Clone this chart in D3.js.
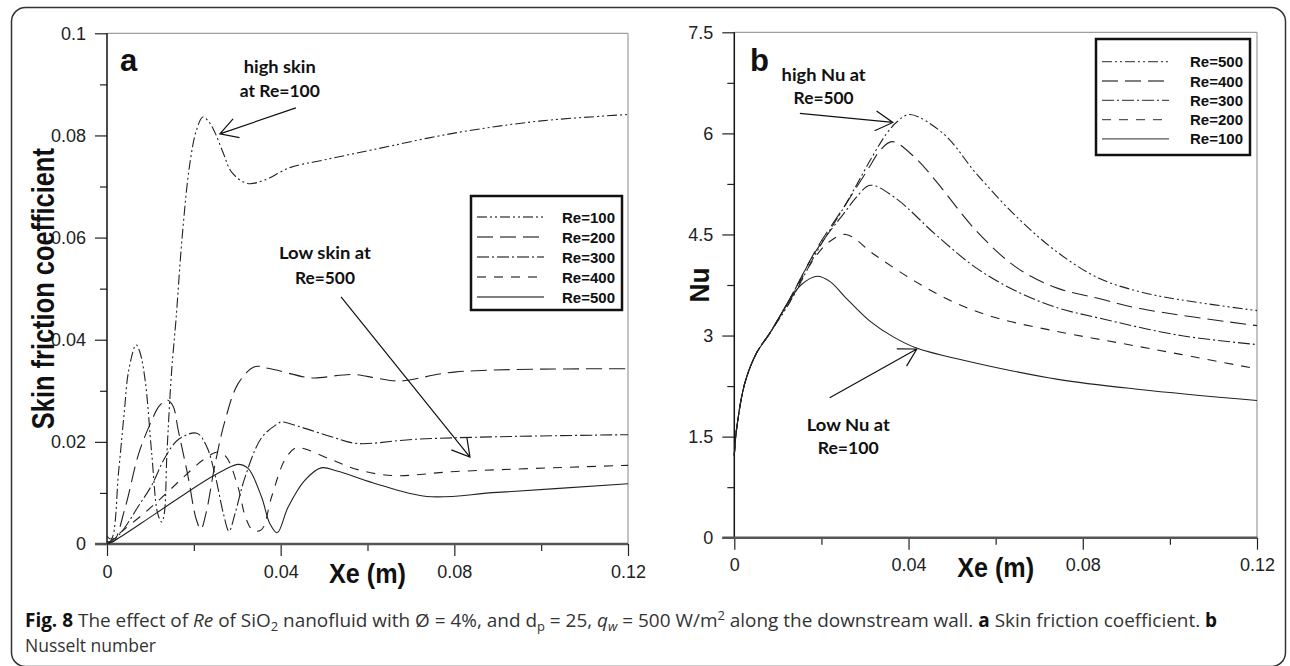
<!DOCTYPE html>
<html>
<head>
<meta charset="utf-8">
<script src="https://cdn.jsdelivr.net/npm/d3@7"></script>
<style>
body { margin: 0; background: #fff; }
</style>
</head>
<body>
<script>
// tick values
var xTicks = [0, 0.04, 0.08, 0.12];
var xMinor = [0.02, 0.06, 0.1];
var cfTicks = [0, 0.02, 0.04, 0.06, 0.08, 0.1];
var cfMinor = [0.01, 0.03, 0.05, 0.07, 0.09];
var nuTicks = [0, 1.5, 3, 4.5, 6, 7.5];
var nuMinor = [0.75, 2.25, 3.75, 5.25, 6.75];

// (a) skin friction coefficient vs Xe
var cfRe100 = [[0,0.0015],[0.001,0.001],[0.0027,0.0144],[0.004,0.026],[0.005,0.034],[0.0067,0.039],[0.0076,0.0375],
  [0.0088,0.032],[0.0103,0.0177],[0.0117,0.0059],[0.0126,0.0043],[0.0132,0.006],[0.0138,0.0177],[0.0149,0.034],
  [0.0159,0.044],[0.0173,0.060],[0.019,0.074],[0.0206,0.081],[0.0221,0.0836],[0.0236,0.0825],[0.0249,0.0805],
  [0.0268,0.0765],[0.0288,0.0727],[0.0324,0.0706],[0.0364,0.0713],[0.0421,0.0737],[0.05,0.0752],[0.0612,0.0772],
  [0.0803,0.0805],[0.0995,0.0828],[0.12,0.0841]];
var cfRe200 = [[0,0.0005],[0.0015,0.0005],[0.0042,0.0072],[0.0073,0.0177],[0.0103,0.0242],[0.012,0.027],[0.0138,0.0282],
  [0.0152,0.027],[0.0164,0.0223],[0.0187,0.0131],[0.0205,0.005],[0.0216,0.0029],[0.0228,0.006],[0.0249,0.0157],
  [0.0272,0.0242],[0.0302,0.0314],[0.034,0.0347],[0.0371,0.0344],[0.0455,0.0327],[0.0479,0.0325],[0.0565,0.0332],
  [0.062,0.0325],[0.067,0.0319],[0.0804,0.0337],[0.12,0.0343]];
var cfRe300 = [[0,0],[0.003,0.002],[0.0073,0.0075],[0.0103,0.0115],[0.0134,0.017],[0.0165,0.0205],[0.0207,0.0217],
  [0.023,0.019],[0.025,0.0131],[0.0268,0.006],[0.0281,0.0025],[0.0295,0.006],[0.0318,0.0131],[0.0356,0.0208],
  [0.0394,0.0236],[0.0402,0.0239],[0.045,0.0228],[0.0517,0.021],[0.0574,0.0197],[0.0708,0.0205],[0.0899,0.021],
  [0.12,0.0214]];
var cfRe400 = [[0,0],[0.002,0.0015],[0.0088,0.0062],[0.0135,0.0098],[0.018,0.0134],[0.0222,0.0165],[0.0256,0.018],
  [0.0275,0.017],[0.0302,0.0111],[0.032,0.005],[0.0337,0.0026],[0.0356,0.0028],[0.0379,0.0092],[0.0409,0.0164],
  [0.0432,0.0187],[0.0448,0.0188],[0.0517,0.0165],[0.058,0.0145],[0.066,0.0134],[0.0804,0.0142],[0.12,0.0154]];
var cfRe500 = [[0,0],[0.002,0.0008],[0.0111,0.0059],[0.0226,0.0124],[0.027,0.0145],[0.0302,0.0156],[0.0325,0.0148],
  [0.0356,0.0092],[0.0375,0.004],[0.0392,0.0022],[0.0417,0.0072],[0.0455,0.0124],[0.0493,0.0149],[0.053,0.0143],
  [0.0612,0.012],[0.0737,0.0093],[0.0899,0.0101],[0.12,0.0118]];

// (b) Nusselt number vs Xe
var nuRe100 = [[0,1.22],[0.0005,1.6],[0.0024,2.29],[0.0051,2.74],[0.0082,3.04],[0.0128,3.53],[0.0153,3.75],[0.019,3.88],
  [0.022,3.8],[0.0256,3.56],[0.0312,3.21],[0.0365,2.98],[0.042,2.81],[0.0556,2.59],[0.0743,2.35],[0.0931,2.2],[0.12,2.036]];
var nuRe200 = [[0,1.22],[0.0005,1.6],[0.0024,2.29],[0.0051,2.74],[0.0082,3.04],[0.0128,3.55],[0.019,4.2],[0.022,4.4],
  [0.0256,4.5],[0.0322,4.2],[0.0416,3.8],[0.0509,3.48],[0.0603,3.26],[0.075,3.05],[0.0884,2.89],[0.1025,2.72],[0.12,2.505]];
var nuRe300 = [[0,1.22],[0.0005,1.6],[0.0024,2.29],[0.0051,2.74],[0.0082,3.04],[0.0128,3.55],[0.019,4.28],[0.0256,4.85],
  [0.028,5.05],[0.0312,5.23],[0.0368,5.05],[0.0462,4.5],[0.0556,4.0],[0.065,3.65],[0.0743,3.41],[0.0837,3.26],
  [0.1025,3.0],[0.12,2.866]];
var nuRe400 = [[0,1.22],[0.0005,1.6],[0.0024,2.29],[0.0051,2.74],[0.0082,3.04],[0.0128,3.55],[0.019,4.3],[0.0256,4.95],
  [0.031,5.5],[0.0335,5.75],[0.0362,5.878],[0.0415,5.64],[0.0462,5.3],[0.0556,4.55],[0.065,4.0],[0.0743,3.7],
  [0.0837,3.55],[0.0931,3.4],[0.12,3.147]];
var nuRe500 = [[0,1.22],[0.0005,1.6],[0.0024,2.29],[0.0051,2.74],[0.0082,3.04],[0.0128,3.5],[0.019,4.25],[0.0256,4.95],
  [0.0312,5.6],[0.035,6.0],[0.0375,6.18],[0.0403,6.281],[0.0481,5.99],[0.0556,5.40],[0.065,4.75],[0.0743,4.23],
  [0.0837,3.85],[0.0931,3.65],[0.1025,3.53],[0.12,3.37]];

var cfLegend = ["Re=100", "Re=200", "Re=300", "Re=400", "Re=500"];
var nuLegend = ["Re=500", "Re=400", "Re=300", "Re=200", "Re=100"];

// line styles
var dashDotDot = "10,3,2,3,2,3";
var longDash = "16,7";
var dashDot = "12,3,2,3";
var medDash = "9,8";
var solid = null;

var svg = d3.select("body").append("svg")
  .attr("width", 1290)
  .attr("height", 666);

// figure border
svg.append("rect")
  .attr("x", 11.5).attr("y", 7.5)
  .attr("width", 1274).attr("height", 659)
  .attr("rx", 14)
  .attr("fill", "none")
  .attr("stroke", "#333")
  .attr("stroke-width", 1.5);

function drawPanel(p) {
  var x = d3.scaleLinear().domain([0, 0.12]).range([p.left, p.right]);
  var y = d3.scaleLinear().domain([0, p.ymax]).range([p.bottom, p.top]);
  var g = svg.append("g");

  // thin frame top/right
  g.append("line").attr("x1", x(0)).attr("x2", x(0.12)).attr("y1", y(p.ymax)).attr("y2", y(p.ymax))
    .attr("stroke", "#888").attr("stroke-width", 1);
  g.append("line").attr("x1", x(0.12)).attr("x2", x(0.12)).attr("y1", y(0)).attr("y2", y(p.ymax))
    .attr("stroke", "#888").attr("stroke-width", 1);

  // axes
  var yAxis = g.append("g").attr("transform", "translate(" + x(0) + ",0)")
    .call(d3.axisLeft(y).tickValues(p.yticks).tickSize(12).tickPadding(9).tickFormat(p.yfmt));
  var yMin = g.append("g").attr("transform", "translate(" + x(0) + ",0)")
    .call(d3.axisLeft(y).tickValues(p.yminor).tickSize(7).tickFormat(""));
  var xAxis = g.append("g").attr("transform", "translate(0," + y(0) + ")")
    .call(d3.axisBottom(x).tickValues(xTicks).tickSize(12).tickPadding(9)
      .tickFormat(function(d) { return d === 0 ? "0" : d3.format(".2f")(d); }));
  var xMin = g.append("g").attr("transform", "translate(0," + y(0) + ")")
    .call(d3.axisBottom(x).tickValues(xMinor).tickSize(7).tickFormat(""));
  [yAxis, yMin, xAxis, xMin].forEach(function(a) {
    a.select(".domain").remove();
    a.attr("font-family", "Liberation Sans, Arial, sans-serif")
      .attr("font-size", 18)
      .attr("color", "#222");
    a.selectAll("line").attr("stroke-width", 1.2);
    a.selectAll("text").attr("fill", "#222");
  });

  g.append("line").attr("x1", x(0)).attr("x2", x(0)).attr("y1", y(0)).attr("y2", y(p.ymax))
    .attr("stroke", "#111").attr("stroke-width", 1.5);
  g.append("line").attr("x1", x(0) - 12).attr("x2", x(0.12)).attr("y1", y(0)).attr("y2", y(0))
    .attr("stroke", "#555").attr("stroke-width", 2.6);

  // curves
  var line = d3.line()
    .x(function(d) { return x(d[0]); })
    .y(function(d) { return y(d[1]); })
    .curve(d3.curveCatmullRom.alpha(0.5));
  p.series.forEach(function(s) {
    g.append("path")
      .attr("d", line(s.data))
      .attr("fill", "none")
      .attr("stroke", "#222")
      .attr("stroke-width", 1.1)
      .attr("stroke-dasharray", s.dash);
  });

  // axis titles
  g.append("text")
    .attr("transform", "translate(" + p.ytitleX + "," + ((p.top + p.bottom) / 2) + ") rotate(-90)")
    .attr("text-anchor", "middle")
    .attr("font-family", "Liberation Sans, Arial, sans-serif")
    .attr("font-weight", "bold")
    .attr("font-size", p.ytitleSize)
    .attr("textLength", p.ytitleLen)
    .attr("lengthAdjust", "spacingAndGlyphs")
    .attr("fill", "#111")
    .text(p.ytitle);
  g.append("text")
    .attr("x", (p.left + p.right) / 2)
    .attr("y", y(0) + 39)
    .attr("text-anchor", "middle")
    .attr("font-family", "Liberation Sans, Arial, sans-serif")
    .attr("font-weight", "bold")
    .attr("font-size", 28)
    .attr("textLength", 77)
    .attr("lengthAdjust", "spacingAndGlyphs")
    .attr("fill", "#111")
    .text("Xe (m)");

  // panel letter
  g.append("text")
    .attr("x", x(p.letterAt[0])).attr("y", y(p.letterAt[1]))
    .attr("font-family", "Liberation Sans, Arial, sans-serif")
    .attr("font-weight", "bold")
    .attr("font-size", 31)
    .attr("fill", "#111")
    .text(p.letter);

  // annotations
  p.notes.forEach(function(n) {
    n.lines.forEach(function(t, i) {
      g.append("text")
        .attr("x", x(n.at[0]))
        .attr("y", y(n.at[1]) + i * n.gap)
        .attr("text-anchor", "middle")
        .attr("font-family", "Lato, Open Sans, sans-serif")
        .attr("font-weight", "bold")
        .attr("font-size", 17)
        .attr("textLength", n.len[i])
        .attr("lengthAdjust", "spacingAndGlyphs")
        .attr("fill", "#111")
        .text(t);
    });
    var x1 = x(n.from[0]), y1 = y(n.from[1]), x2 = x(n.to[0]), y2 = y(n.to[1]);
    var ang = Math.atan2(y1 - y2, x1 - x2);
    var h = 20, spread = 0.52;
    g.append("path")
      .attr("d", "M" + x1 + "," + y1 + "L" + x2 + "," + y2 +
        "M" + (x2 + h * Math.cos(ang - spread)) + "," + (y2 + h * Math.sin(ang - spread)) +
        "L" + x2 + "," + y2 +
        "L" + (x2 + h * Math.cos(ang + spread)) + "," + (y2 + h * Math.sin(ang + spread)))
      .attr("fill", "none")
      .attr("stroke", "#111")
      .attr("stroke-width", 1.2);
  });

  // legend
  var lg = p.legend;
  g.append("rect")
    .attr("x", lg.x).attr("y", lg.y).attr("width", lg.w).attr("height", lg.h)
    .attr("fill", "#fff").attr("stroke", "#111").attr("stroke-width", 2.5);
  lg.labels.forEach(function(lab, i) {
    var ry = lg.row0 + i * lg.step;
    g.append("line")
      .attr("x1", lg.x + 6).attr("x2", lg.x + 73)
      .attr("y1", ry).attr("y2", ry)
      .attr("stroke", "#555").attr("stroke-width", 1.3)
      .attr("stroke-dasharray", lg.dashes[i]);
    g.append("text")
      .attr("x", lg.x + lg.w - 7).attr("y", ry + 5.5)
      .attr("text-anchor", "end")
      .attr("font-family", "Liberation Sans, Arial, sans-serif")
      .attr("font-weight", "bold")
      .attr("font-size", 15)
      .attr("fill", "#111")
      .text(lab);
  });
}

drawPanel({
  left: 107, right: 628, top: 33.3, bottom: 544, ymax: 0.1,
  yticks: cfTicks, yminor: cfMinor,
  yfmt: function(d) { return d === 0 ? "0" : d3.format(".2~f")(d); },
  series: [
    {data: cfRe100, dash: dashDotDot},
    {data: cfRe200, dash: longDash},
    {data: cfRe300, dash: dashDot},
    {data: cfRe400, dash: medDash},
    {data: cfRe500, dash: solid}
  ],
  ytitle: "Skin friction coefficient", ytitleX: 54, ytitleSize: 31, ytitleLen: 281,
  letter: "a", letterAt: [0.003, 0.0926],
  notes: [
    {lines: ["high skin", "at Re=100"], len: [72, 80], at: [0.0398, 0.0923], gap: 24,
      from: [0.0435, 0.0854], to: [0.026, 0.0803]},
    {lines: ["Low skin at", "Re=500"], len: [92, 60], at: [0.0502, 0.0558], gap: 25,
      from: [0.0539, 0.0484], to: [0.0836, 0.0170]}
  ],
  legend: {x: 471, y: 196, w: 151, h: 114, row0: 217, step: 20, labels: cfLegend,
    dashes: [dashDotDot, longDash, dashDot, medDash, solid]}
});

drawPanel({
  left: 734.3, right: 1257, top: 32.3, bottom: 537.7, ymax: 7.5,
  yticks: nuTicks, yminor: nuMinor,
  yfmt: d3.format("~g"),
  series: [
    {data: nuRe500, dash: dashDotDot},
    {data: nuRe400, dash: longDash},
    {data: nuRe300, dash: dashDot},
    {data: nuRe200, dash: medDash},
    {data: nuRe100, dash: solid}
  ],
  ytitle: "Nu", ytitleX: 709, ytitleSize: 28, ytitleLen: 35,
  letter: "b", letterAt: [0.0036, 6.924],
  notes: [
    {lines: ["high Nu at", "Re=500"], len: [84, 60], at: [0.0205, 6.775], gap: 23.3,
      from: [0.01505, 6.296], to: [0.0364, 6.162]},
    {lines: ["Low Nu at", "Re=100"], len: [83, 61], at: [0.02616, 1.59], gap: 23.3,
      from: [0.0219, 2.076], to: [0.0419, 2.80]}
  ],
  legend: {x: 1096, y: 39, w: 154, h: 116, row0: 61.7, step: 19.3, labels: nuLegend,
    dashes: [dashDotDot, longDash, dashDot, medDash, solid]}
});

// caption
var cap = svg.append("text")
  .attr("x", 25).attr("y", 627)
  .attr("font-family", "Open Sans, Noto Sans, sans-serif")
  .attr("font-size", 17.5)
  .attr("fill", "#333");
cap.append("tspan").attr("font-weight", "bold").attr("fill", "#111").text("Fig. 8");
cap.append("tspan").text(" The effect of ");
cap.append("tspan").attr("font-style", "italic").text("Re");
cap.append("tspan").text(" of SiO");
cap.append("tspan").attr("dy", 4).attr("font-size", 13).text("2");
cap.append("tspan").attr("dy", -4).text(" nanofluid with \u00D8 = 4%, and d");
cap.append("tspan").attr("dy", 4).attr("font-size", 13).text("p");
cap.append("tspan").attr("dy", -4).text(" = 25, ");
cap.append("tspan").attr("font-style", "italic").text("q");
cap.append("tspan").attr("dy", 4).attr("font-size", 13).attr("font-style", "italic").text("w");
cap.append("tspan").attr("dy", -4).text(" = 500 W/m");
cap.append("tspan").attr("dy", -7).attr("font-size", 13).text("2");
cap.append("tspan").attr("dy", 7).text(" along the downstream wall. ");
cap.append("tspan").attr("font-weight", "bold").attr("fill", "#111").text("a");
cap.append("tspan").text(" Skin friction coefficient. ");
cap.append("tspan").attr("font-weight", "bold").attr("fill", "#111").text("b");

var capW = cap.node().getComputedTextLength();
cap.attr("font-size", 17.5 * 1196 / capW);

svg.append("text")
  .attr("x", 25).attr("y", 652)
  .attr("font-family", "Open Sans, Noto Sans, sans-serif")
  .attr("font-size", 17.5)
  .attr("fill", "#333")
  .text("Nusselt number");
</script>
</body>
</html>
